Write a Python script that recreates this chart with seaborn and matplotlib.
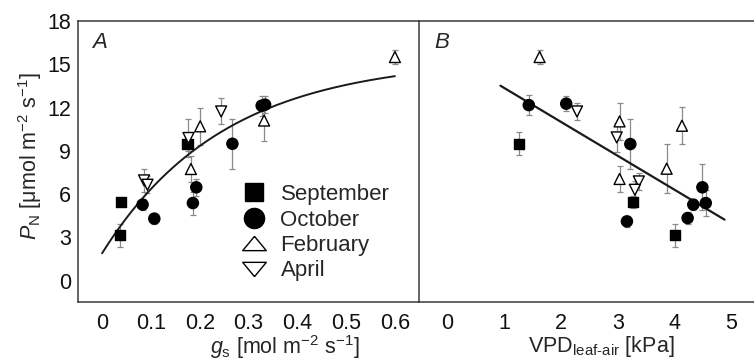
import numpy as np
import pandas as pd
import matplotlib
matplotlib.use("Agg")
import matplotlib.pyplot as plt
from matplotlib.lines import Line2D
import seaborn as sns

# ---------------- data ----------------
months = ["September", "October", "February", "April"]

# Panel A: P_N vs g_s
month_a = ["September"] * 3 + ["October"] * 7 + ["February"] * 4 + ["April"] * 4
gs = [0.039, 0.037, 0.175,
      0.327, 0.334, 0.267, 0.193, 0.186, 0.083, 0.107,
      0.600, 0.332, 0.201, 0.182,
      0.244, 0.177, 0.086, 0.093]
pn_a = [5.45, 3.14, 9.49,
        12.13, 12.20, 9.49, 6.47, 5.38, 5.27, 4.30,
        15.50, 11.10, 10.70, 7.74,
        11.73, 9.89, 6.95, 6.65]
err_a = [0.3, 0.8, 0.5,
         0.7, 0.6, 1.75, 0.6, 0.8, 0.4, 0.4,
         0.5, 1.45, 1.3, 0.9,
         0.9, 1.3, 0.8, 0.6]

# Panel B: P_N vs VPD
month_b = ["September"] * 3 + ["October"] * 8 + ["February"] * 5 + ["April"] * 4
vpd = [1.26, 3.27, 4.01,
       1.43, 2.09, 3.22, 4.49, 4.33, 4.55, 3.16, 4.23,
       1.62, 3.03, 4.13, 3.86, 3.03,
       2.28, 2.98, 3.37, 3.30]
pn_b = [9.49, 5.45, 3.14,
        12.17, 12.27, 9.47, 6.47, 5.27, 5.38, 4.11, 4.34,
        15.50, 11.04, 10.74, 7.76, 7.05,
        11.73, 9.93, 6.88, 6.30]
err_b = [0.8, 0.4, 0.8,
         0.7, 0.5, 1.75, 1.6, 0.4, 0.9, 0.4, 0.4,
         0.5, 1.3, 1.3, 1.7, 0.9,
         0.6, 1.0, 0.6, 0.6]

# fitted relations shown in the figure
fit_a = dict(c=1.9, a=13.5, b=4.0, xmin=0.0, xmax=0.6)        # y = c + a(1-exp(-b x))
fit_b = dict(intercept=15.7, slope=-2.35, xmin=0.93, xmax=4.88)  # y = i + s x

yticks = [0, 3, 6, 9, 12, 15, 18]
xticks_a = [0, 0.1, 0.2, 0.3, 0.4, 0.5, 0.6]
xticklabels_a = ["0", "0.1", "0.2", "0.3", "0.4", "0.5", "0.6"]
xticks_b = [0, 1, 2, 3, 4, 5]

# ---------------- style ----------------
sns.set_theme(style="white")
plt.rcParams["font.family"] = ["Liberation Sans", "DejaVu Sans"]
plt.rcParams["mathtext.fontset"] = "custom"
plt.rcParams["mathtext.rm"] = "Liberation Sans"
plt.rcParams["mathtext.it"] = "Liberation Sans:italic"
plt.rcParams["mathtext.bf"] = "Liberation Sans:bold"

spine_c = "#3a3a3a"
err_c = "#8a8a8a"
palette = {"September": "black", "October": "black", "February": "white", "April": "white"}
markers = {"September": "s", "October": "o", "February": "^", "April": "v"}
sizes = {"September": 52, "October": 64, "February": 62, "April": 62}

fig = plt.figure(figsize=(7.54, 3.62), dpi=100)
W, H = 754, 362
axA = fig.add_axes([77.7 / W, 1 - 302.3 / H, (419.3 - 77.7) / W, (302.3 - 21) / H])
axB = fig.add_axes([419.3 / W, 1 - 302.3 / H, (W - 419.3) / W, (302.3 - 21) / H])

dfa = pd.DataFrame({"month": month_a, "x": gs, "y": pn_a, "err": err_a})
dfb = pd.DataFrame({"month": month_b, "x": vpd, "y": pn_b, "err": err_b})

for ax, df in [(axA, dfa), (axB, dfb)]:
    ax.errorbar(df["x"], df["y"], yerr=df["err"], fmt="none", ecolor=err_c,
                elinewidth=0.9, capsize=2.2, capthick=0.9, zorder=1)

# fit lines
xa = np.linspace(fit_a["xmin"], fit_a["xmax"], 200)
ya = fit_a["c"] + fit_a["a"] * (1 - np.exp(-fit_a["b"] * xa))
sns.lineplot(x=xa, y=ya, ax=axA, color="#1a1a1a", lw=1.4, zorder=2)
xb = np.array([fit_b["xmin"], fit_b["xmax"]])
yb = fit_b["intercept"] + fit_b["slope"] * xb
sns.lineplot(x=xb, y=yb, ax=axB, color="#1a1a1a", lw=1.6, zorder=2)

for ax, df in [(axA, dfa), (axB, dfb)]:
    sns.scatterplot(data=df, x="x", y="y", hue="month", style="month", size="month",
                    palette=palette, markers=markers, sizes=sizes,
                    hue_order=months, style_order=months, size_order=months,
                    edgecolor="black", linewidth=1.0, legend=False, ax=ax, zorder=3)

# axes limits / ticks
for ax in (axA, axB):
    ax.set_ylim(-1.5, 18)
    for s in ax.spines.values():
        s.set_color(spine_c)
        s.set_linewidth(1.1)
    ax.tick_params(direction="in", length=3.5, width=0.9, color=spine_c,
                   labelsize=15.5, labelcolor="#111111")
    ax.set_xlabel("")
    ax.set_ylabel("")

axA.set_xlim(-0.05, 0.65)
axA.set_xticks(xticks_a)
axA.set_xticklabels(xticklabels_a)
axA.set_yticks(yticks)
axA.tick_params(axis="x", pad=7.5)
axA.tick_params(axis="y", pad=5)
axA.spines["right"].set_visible(False)

axB.set_xlim(-0.5, 5.4)
axB.set_xticks(xticks_b)
axB.set_yticks(np.arange(0, 18.1, 1.5))
axB.tick_params(axis="y", labelleft=False)
axB.tick_params(axis="x", pad=7.5)
axB.spines["right"].set_visible(False)

# labels
axA.set_ylabel(r"$P_\mathregular{N}$ [μmol m$^{-2}$ s$^{-1}$]", fontsize=15.5)
axA.yaxis.set_label_coords(-0.10, 0.52)
axA.set_xlabel(r"$g_\mathregular{s}$ [mol m$^{-2}$ s$^{-1}$]", fontsize=15.5)
axA.xaxis.set_label_coords(0.607, -0.108)
axB.set_xlabel(r"VPD$_\mathregular{leaf\text{-}air}$ [kPa]", fontsize=15.5)
axB.xaxis.set_label_coords(0.545, -0.112)

axA.text(0.065, 0.925, "A", transform=axA.transAxes, fontsize=16, style="italic",
         ha="center", va="center")
axB.text(0.068, 0.925, "B", transform=axB.transAxes, fontsize=16, style="italic",
         ha="center", va="center")

# legend (legend triangles are drawn wider than tall, as in the reference)
flat_up = [(0, 1), (-1.65, -1), (1.65, -1), (0, 1)]
flat_down = [(0, -1), (-1.65, 1), (1.65, 1), (0, -1)]
leg_markers = {"September": "s", "October": "o", "February": flat_up, "April": flat_down}
leg_sizes = {"September": 12.5, "October": 14.5, "February": 17, "April": 17}
handles = [Line2D([], [], linestyle="none", marker=leg_markers[m], markersize=leg_sizes[m],
                  markerfacecolor=palette[m], markeredgecolor="black", markeredgewidth=1.0)
           for m in months]
axA.legend(handles, months, loc="upper left", bbox_to_anchor=(0.483, 0.42),
           frameon=False, fontsize=16, handlelength=1.0, handletextpad=0.7,
           labelspacing=0.2, borderpad=0, borderaxespad=0)

fig.savefig("out.png", dpi=100)
